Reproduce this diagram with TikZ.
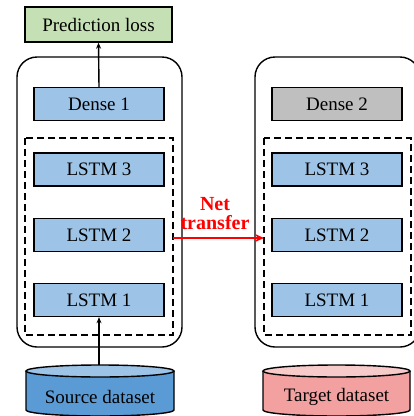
\documentclass[tikz,border=0pt]{standalone}
\usepackage{fontspec}
\setmainfont{Liberation Serif}
\usetikzlibrary{arrows.meta}
\definecolor{lossgreen}{RGB}{197,224,180}
\definecolor{layerblue}{RGB}{157,195,230}
\definecolor{densegray}{RGB}{191,191,191}
\definecolor{srcbody}{RGB}{91,155,213}
\definecolor{srctop}{RGB}{157,195,230}
\definecolor{tgtbody}{RGB}{242,160,160}
\definecolor{tgttop}{RGB}{248,203,203}
\begin{document}
\begin{tikzpicture}[x=1pt,y=-1pt,
  layerbox/.style={draw=black, line width=1.4pt, fill=layerblue, minimum width=130pt, minimum height=33pt, inner sep=0pt, font=\fontsize{19}{22}\selectfont},
  outerbox/.style={draw=black, line width=1.4pt, rounded corners=20pt},
  dashbox/.style={draw=black, line width=1.4pt, dash pattern=on 7pt off 4pt},
  uparrow/.style={draw=black, line width=1.4pt, -{Stealth[length=6pt,width=5pt]}},
  cylside/.style={draw=black, line width=1.4pt}
]
\useasboundingbox (0,0) rectangle (414,416);

% outer rounded boxes
\draw[outerbox] (17,57) rectangle (182,347);
\draw[outerbox] (255,57) rectangle (420,347);

% dashed boxes
\draw[dashbox] (25,138) rectangle (173,335);
\draw[dashbox] (264,138) rectangle (411,335);

% prediction loss
\node[layerbox, fill=lossgreen, minimum width=147pt, minimum height=35pt] (loss) at (98.5,24.5) {Prediction loss};

% left column
\node[layerbox] (d1) at (99,104) {Dense 1};
\node[layerbox] (l3) at (99,169.5) {LSTM 3};
\node[layerbox] (l2) at (99,235) {LSTM 2};
\node[layerbox] (l1) at (99,300) {LSTM 1};

% right column
\node[layerbox, fill=densegray] (d2) at (337,104) {Dense 2};
\node[layerbox] (r3) at (337,169.5) {LSTM 3};
\node[layerbox] (r2) at (337,235) {LSTM 2};
\node[layerbox] (r1) at (337,300) {LSTM 1};

% source cylinder
\fill[srcbody] (26,371) -- (26,410) arc[start angle=180,end angle=360,x radius=74pt,y radius=6pt] -- (174,371) -- cycle;
\draw[cylside] (26,371) -- (26,410) arc[start angle=180,end angle=360,x radius=74pt,y radius=6pt] -- (174,371);
\draw[cylside, fill=srctop] (100,371) ellipse[x radius=74pt, y radius=6pt];
\node[font=\fontsize{19}{22}\selectfont, inner sep=0pt] (src) at (100,397) {Source dataset};
\coordinate (srcin) at (99,365);

% target cylinder
\fill[tgtbody] (263,371) -- (263,410) arc[start angle=180,end angle=360,x radius=73.5pt,y radius=6pt] -- (410,371) -- cycle;
\draw[cylside] (263,371) -- (263,410) arc[start angle=180,end angle=360,x radius=73.5pt,y radius=6pt] -- (410,371);
\draw[cylside, fill=tgttop] (336.5,371) ellipse[x radius=73.5pt, y radius=6pt];
\node[font=\fontsize{19}{22}\selectfont, inner sep=0pt] (tgt) at (336.5,397) {Target dataset};

% arrows
\draw[uparrow] (d1.north) -- (loss.south);
\draw[uparrow] (srcin) -- (l1.south);

% net transfer
\coordinate (nt1) at (173,238);
\coordinate (nt2) at (264,238);
\draw[red, line width=2pt, -{Stealth[length=9pt,width=8pt]}] (nt1) -- (nt2);
\node[text=red, font=\fontsize{20}{19}\selectfont\bfseries, align=center, anchor=north, inner sep=0pt] (ntlabel) at (215,197) {Net\\transfer};
\end{tikzpicture}
\end{document}
